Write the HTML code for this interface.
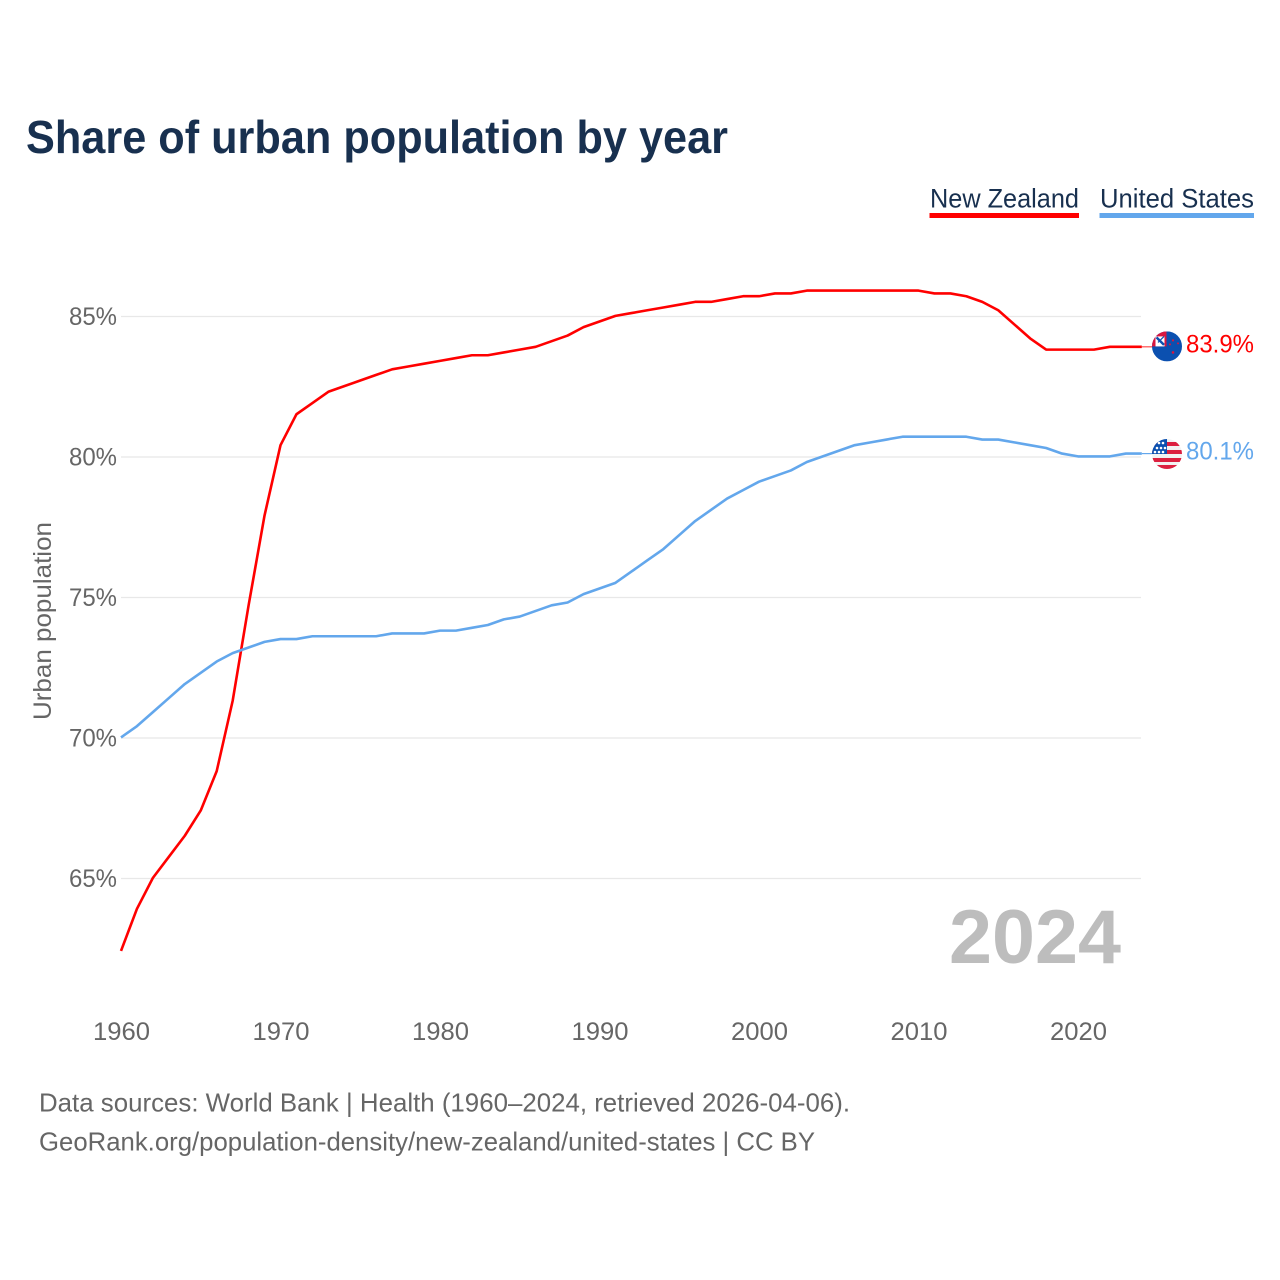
<!DOCTYPE html>
<html lang="en">
<head>
<meta charset="utf-8">
<title>Share of urban population by year</title>
<style>
html,body{margin:0;padding:0;background:#fff;width:1280px;height:1280px;overflow:hidden}
svg{display:block;font-family:"Liberation Sans",sans-serif}
</style>
</head>
<body>
<svg id="chart" xmlns="http://www.w3.org/2000/svg" width="1280" height="1280" viewBox="0 0 1280 1280">
  <defs>
    <clipPath id="clip-nz"><circle cx="0" cy="0" r="15"/></clipPath>
    <clipPath id="clip-us"><circle cx="0" cy="0" r="15"/></clipPath>
  </defs>
  <rect width="1280" height="1280" fill="#fff"/>
  <text x="26" y="153" font-size="46" font-weight="700" fill="#18304f" textLength="702" lengthAdjust="spacingAndGlyphs">Share of urban population by year</text>

  <g>
    <text x="930" y="207.5" font-size="27" fill="#18304f" textLength="149" lengthAdjust="spacingAndGlyphs">New Zealand</text>
    <rect x="929.5" y="213" width="149.5" height="5" fill="#ff0000"/>
  </g>
  <g>
    <text x="1100" y="207.5" font-size="27" fill="#18304f" textLength="154" lengthAdjust="spacingAndGlyphs">United States</text>
    <rect x="1099.5" y="213" width="154.5" height="5" fill="#63a7ec"/>
  </g>

  <g id="grid"></g>
  <g id="yticks"></g>
  <g id="xticks"></g>
  <text transform="translate(51,621) rotate(-90)" text-anchor="middle" font-size="25" fill="#666" textLength="198" lengthAdjust="spacingAndGlyphs">Urban population</text>
  <text x="949" y="963" font-size="76" font-weight="700" fill="#bdbdbd" textLength="172" lengthAdjust="spacingAndGlyphs">2024</text>

  <g id="series" transform="translate(0,-0.6)"></g>
  <g id="ends"></g>

  <text x="39" y="1111.5" font-size="26" fill="#666" textLength="811" lengthAdjust="spacingAndGlyphs">Data sources: World Bank | Health (1960–2024, retrieved 2026-04-06).</text>
  <text x="39" y="1150.5" font-size="26" fill="#666" textLength="776" lengthAdjust="spacingAndGlyphs">GeoRank.org/population-density/new-zealand/united-states | CC BY</text>
</svg>
<script>
const startYear = 1960;
const newZealand = [62.4,63.9,65.0,65.75,66.5,67.4,68.8,71.3,74.7,77.9,80.4,81.5,81.9,82.3,82.5,82.7,82.9,83.1,83.2,83.3,83.4,83.5,83.6,83.6,83.7,83.8,83.9,84.1,84.3,84.6,84.8,85.0,85.1,85.2,85.3,85.4,85.5,85.5,85.6,85.7,85.7,85.8,85.8,85.9,85.9,85.9,85.9,85.9,85.9,85.9,85.9,85.8,85.8,85.7,85.5,85.2,84.7,84.2,83.8,83.8,83.8,83.8,83.9,83.9,83.9];
const unitedStates = [70.0,70.4,70.9,71.4,71.9,72.3,72.7,73.0,73.2,73.4,73.5,73.5,73.6,73.6,73.6,73.6,73.6,73.7,73.7,73.7,73.8,73.8,73.9,74.0,74.2,74.3,74.5,74.7,74.8,75.1,75.3,75.5,75.9,76.3,76.7,77.2,77.7,78.1,78.5,78.8,79.1,79.3,79.5,79.8,80.0,80.2,80.4,80.5,80.6,80.7,80.7,80.7,80.7,80.7,80.6,80.6,80.5,80.4,80.3,80.1,80.0,80.0,80.0,80.1,80.1];
const yTicks = [65,70,75,80,85];
const xTicks = [1960,1970,1980,1990,2000,2010,2020];
const endLabels = ['83.9%','80.1%'];

const NS = 'http://www.w3.org/2000/svg';
const xScale = year => 121 + (year - 1960) * 15.95;
const yScale = value => 316.5 + (85 - value) * 28.1;
function make(tag, parent, attrs) {
  const node = document.createElementNS(NS, tag);
  Object.keys(attrs).forEach(k => node.setAttribute(k, attrs[k]));
  parent.appendChild(node);
  return node;
}

const grid = document.getElementById('grid');
const yGroup = document.getElementById('yticks');
yTicks.forEach(v => {
  const line = make('line', grid, {x1: 121, x2: 1141, y1: yScale(v), y2: yScale(v), stroke: '#e8e8e8', 'stroke-width': 1.2});
  
  
  const t = make('text', yGroup, {x: 117, y: yScale(v) + 8.5, 'text-anchor': 'end', 'font-size': 25, fill: '#666', textLength: 48, lengthAdjust: 'spacingAndGlyphs'});
  
  
  t.textContent = v + '%';
});

const xGroup = document.getElementById('xticks');
xTicks.forEach(y => {
  const t = make('text', xGroup, {x: xScale(y) + 0.5, y: 1040, 'text-anchor': 'middle', 'font-size': 25, fill: '#666', textLength: 57, lengthAdjust: 'spacingAndGlyphs'});
  
  
  t.textContent = y;
});

function linePoints(values) {
  return values.map((v, i) => xScale(startYear + i).toFixed(2) + ',' + yScale(v).toFixed(2)).join(' ');
}
const seriesGroup = document.getElementById('series');
const lineNZ = make('polyline', seriesGroup, {points: linePoints(newZealand), fill: 'none', stroke: '#ff0000', 'stroke-width': 2.6, 'stroke-linejoin': 'round'});


const lineUS = make('polyline', seriesGroup, {points: linePoints(unitedStates), fill: 'none', stroke: '#63a7ec', 'stroke-width': 2.6, 'stroke-linejoin': 'round'});



const ends = document.getElementById('ends');
const lastX = xScale(startYear + newZealand.length - 1);
const nzY = yScale(newZealand[newZealand.length - 1]);
const usY = yScale(unitedStates[unitedStates.length - 1]);

const leadNZ = make('line', ends, {x1: lastX, x2: lastX + 12, y1: nzY - 0.6, y2: nzY - 0.6, stroke: '#ff0000', 'stroke-width': 1.2, opacity: 0.7});


const leadUS = make('line', ends, {x1: lastX, x2: lastX + 12, y1: usY - 0.6, y2: usY - 0.6, stroke: '#63a7ec', 'stroke-width': 1.2});



/* New Zealand flag */
const flagNZ = make('g', ends, {transform: 'translate(1167,' + (nzY - 1) + ')', 'clip-path': 'url(#clip-nz)'});


make('rect', flagNZ, {x: -15, y: -15, width: 30, height: 30, fill: '#0b50b0'});
make('rect', flagNZ, {x: -15, y: -15, width: 14.5, height: 15, fill: '#d8163f'});
make('rect', flagNZ, {x: -11.5, y: -10, width: 9, height: 10, fill: '#fff'});
make('path', flagNZ, {d: 'M-10.5-9L-3-1.5', stroke: '#0b50b0', 'stroke-width': 2.4});
make('path', flagNZ, {d: 'M-3-10L-9-4', stroke: '#0b50b0', 'stroke-width': 1.2});
make('circle', flagNZ, {cx: 6, cy: -6, r: 1.1, fill: '#d8163f'});
make('circle', flagNZ, {cx: 11, cy: -3, r: 1, fill: '#d8163f'});
make('circle', flagNZ, {cx: 3, cy: -2, r: 1, fill: '#d8163f'});
make('circle', flagNZ, {cx: 6, cy: 6, r: 1.3, fill: '#d8163f'});

/* United States flag */
const flagUS = make('g', ends, {transform: 'translate(1167,' + (usY - 0.2) + ')', 'clip-path': 'url(#clip-us)'});


make('rect', flagUS, {x: -15, y: -15, width: 30, height: 30, fill: '#f2f2f2'});
['-12', '-4', '4', '11'].forEach(y => {
  make('rect', flagUS, {x: -15, y: y, width: 30, height: 4, fill: '#dc1f3f'});
});
make('rect', flagUS, {x: -15, y: -15, width: 15, height: 15, fill: '#0b50b0'});
[[-8,-11],[-4,-11],[-10,-6],[-6,-6],[-2,-6],[-8,-2],[-4,-2],[-12,-2]].forEach(p => {
  make('circle', flagUS, {cx: p[0], cy: p[1], r: 1.3, fill: '#fff'});
});

const labelNZ = make('text', ends, {x: 1186, y: nzY + 5, 'font-size': 25, fill: '#ff0000', textLength: 68, lengthAdjust: 'spacingAndGlyphs'});


labelNZ.textContent = endLabels[0];
const labelUS = make('text', ends, {x: 1186, y: usY + 5.5, 'font-size': 25, fill: '#63a7ec', textLength: 68, lengthAdjust: 'spacingAndGlyphs'});


labelUS.textContent = endLabels[1];
</script>
</body>
</html>
